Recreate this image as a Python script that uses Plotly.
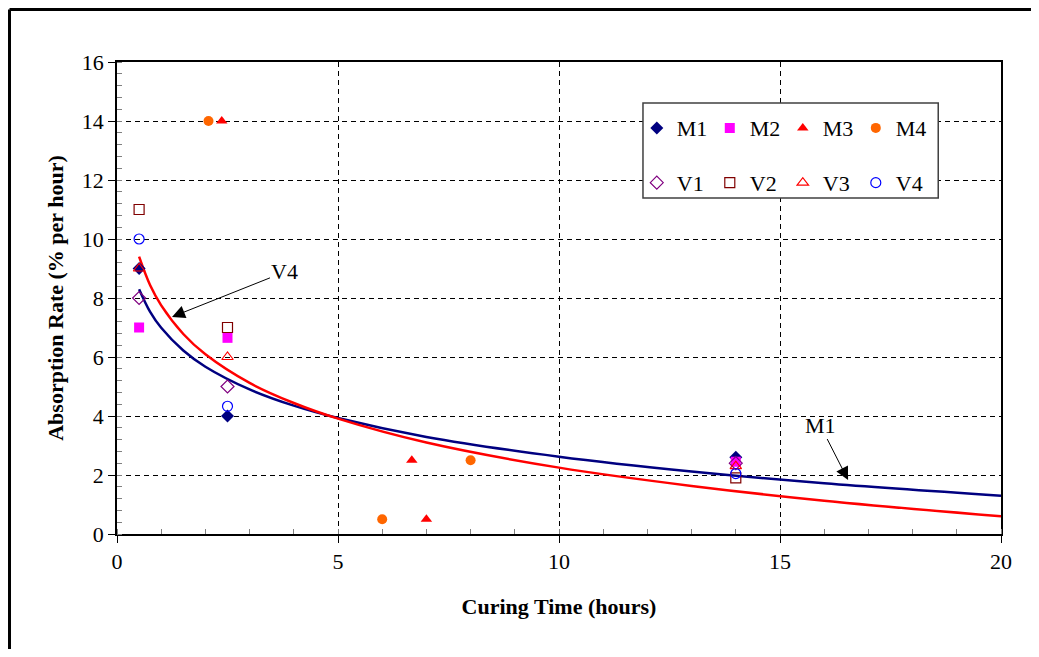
import plotly.graph_objects as go

# ---- data ----
m1_x = [0.5, 2.5, 14]
m1_y = [9.0, 4.0, 2.6]
m2_x = [0.5, 2.5, 14]
m2_y = [7.0, 6.65, 2.45]
m3_x = [2.37, 6.67, 7.0]
m3_y = [14.0, 2.5, 0.5]
m4_x = [2.07, 6.0, 8.0]
m4_y = [14.0, 0.5, 2.5]
v1_x = [0.5, 2.5, 14]
v1_y = [8.0, 5.0, 2.4]
v2_x = [0.5, 2.5, 14]
v2_y = [11.0, 7.0, 1.9]
v3_x = [0.5, 2.5, 14]
v3_y = [9.0, 6.0, 2.3]
v4_x = [0.5, 2.5, 14]
v4_y = [10.0, 4.33, 2.05]

# trend curves
trend_x = [0.5, 0.75, 1, 1.5, 2, 3, 4, 5, 7, 10, 13, 16, 20]
trend_m1 = [8.30, 7.53, 6.99, 6.22, 5.67, 4.90, 4.35, 3.93, 3.29, 2.62, 2.12, 1.72, 1.30]
trend_v4 = [9.40, 8.43, 7.75, 6.78, 6.09, 5.12, 4.44, 3.91, 3.10, 2.25, 1.63, 1.13, 0.60]

x_ticks = [0, 5, 10, 15, 20]
y_ticks = [0, 2, 4, 6, 8, 10, 12, 14, 16]

FONT = "Liberation Serif, Times New Roman, serif"

fig = go.Figure()

fig.add_trace(go.Scatter(x=trend_x, y=trend_m1, mode="lines", line=dict(color="#000080", width=2.5, shape="spline"),
                         showlegend=False, hoverinfo="skip"))
fig.add_trace(go.Scatter(x=trend_x, y=trend_v4, mode="lines", line=dict(color="#FF0000", width=2.5, shape="spline"),
                         showlegend=False, hoverinfo="skip"))

def pts(x, y, name, symbol, color, size, legend, filled=True):
    if filled:
        marker = dict(symbol=symbol, color=color, size=size, line=dict(width=0))
    else:
        marker = dict(symbol=symbol + "-open", color=color, size=size, line=dict(width=1.2, color=color))
    fig.add_trace(go.Scatter(x=x, y=y, mode="markers", name=name, marker=marker, legend=legend))

pts(m1_x, m1_y, "M1", "diamond", "#000080", 10, "legend")
pts(m2_x, m2_y, "M2", "square", "#FF00FF", 10, "legend")
pts(m3_x, m3_y, "M3", "triangle-up", "#FF0000", 10, "legend")
pts(m4_x, m4_y, "M4", "circle", "#FF6600", 10, "legend")
pts(v1_x, v1_y, "V1", "diamond", "#800080", 10, "legend2", False)
pts(v2_x, v2_y, "V2", "square", "#800000", 10, "legend2", False)
pts(v3_x, v3_y, "V3", "triangle-up", "#FF0000", 10, "legend2", False)
pts(v4_x, v4_y, "V4", "circle", "#0000FF", 10, "legend2", False)

axis_common = dict(
    showline=True, linecolor="black", linewidth=1.5, mirror=True,
    showgrid=True, gridcolor="black", gridwidth=1, griddash="5px,4px",
    ticks="outside", ticklen=7, tickcolor="black", tickwidth=1,
    tickfont=dict(family=FONT, size=22, color="black"),
    zeroline=False,
)

fig.update_xaxes(**axis_common, range=[0, 20], tickvals=x_ticks,
                 minor=dict(ticks="inside", dtick=1, ticklen=5, tickcolor="#808080", showgrid=False),
                 title=dict(text="<b>Curing Time (hours)</b>", font=dict(family=FONT, size=22, color="black"), standoff=25))
fig.update_yaxes(**axis_common, range=[0, 16], tickvals=y_ticks,
                 minor=dict(ticks="inside", dtick=0.4, ticklen=5, tickcolor="#808080", showgrid=False),
                 title=dict(text="<b>Absorption Rate (% per hour)</b>", font=dict(family=FONT, size=22, color="black"), standoff=12))

leg_common = dict(orientation="h", font=dict(family=FONT, size=22, color="black"),
                  bgcolor="rgba(0,0,0,0)", borderwidth=0, entrywidth=28, entrywidthmode="pixels",
                  xanchor="left", yanchor="middle", itemsizing="trace")

fig.update_layout(
    width=1023, height=641,
    margin=dict(l=109, r=30, t=54, b=115),
    paper_bgcolor="white", plot_bgcolor="white",
    font=dict(family=FONT, color="black"),
    legend=dict(**leg_common, x=0.588, y=0.860),
    legend2=dict(**leg_common, x=0.588, y=0.744),
    shapes=[
        dict(type="rect", xref="paper", yref="paper", x0=0.595, x1=0.929, y0=0.712, y1=0.913,
             line=dict(color="#404040", width=1.5), fillcolor="white", layer="above"),
        dict(type="line", xref="paper", yref="paper", x0=-0.1216, x1=1.034, y0=1.1112, y1=1.1112,
             line=dict(color="black", width=3), layer="above"),
        dict(type="line", xref="paper", yref="paper", x0=-0.1216, x1=-0.1216, y0=-0.2436, y1=1.1112,
             line=dict(color="black", width=3), layer="above"),
    ],
    annotations=[
        dict(x=1.244, y=7.36, xref="x", yref="y", text="V4", ax=113, ay=-45,
             showarrow=True, arrowhead=2, arrowsize=2.6, arrowwidth=1, arrowcolor="black",
             font=dict(family=FONT, size=22, color="black")),
        dict(x=16.54, y=1.83, xref="x", yref="y", text="M1", ax=-28, ay=-55,
             showarrow=True, arrowhead=2, arrowsize=2.6, arrowwidth=1, arrowcolor="black",
             font=dict(family=FONT, size=22, color="black")),
    ],
)

fig.write_html("out.html")
